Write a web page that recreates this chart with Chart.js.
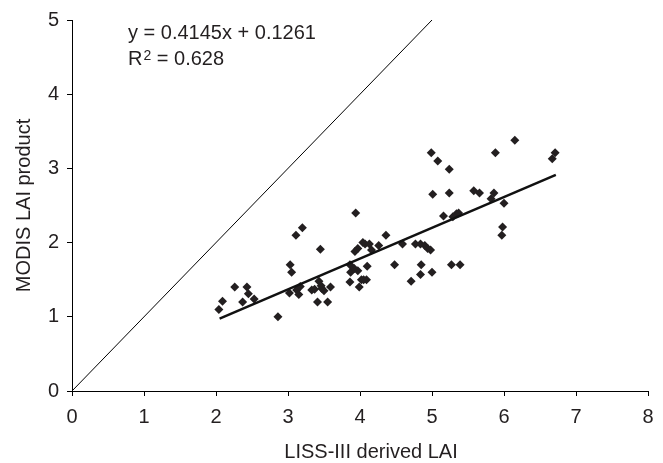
<!DOCTYPE html>
<html>
<head>
<meta charset="utf-8">
<title>MODIS LAI vs LISS-III LAI</title>
<script src="https://cdn.jsdelivr.net/npm/chart.js@4.4.0/dist/chart.umd.min.js"></script>
<style>
body { margin: 0; background: #fff; }
#grafico { display: block; }
</style>
</head>
<body>
<canvas id="grafico" width="663" height="463"></canvas>
<script>
// LAI from LISS-III (x) and the MODIS product (y), one entry per site
const lissLAI = [
	2.04, 2.09, 2.26, 2.37, 2.43, 2.45, 2.53, 2.86, 3.03, 3.05,
	3.02, 3.11, 3.20, 3.12, 3.15, 3.17, 3.33, 3.37, 3.41, 3.43,
	3.45, 3.46, 3.50, 3.55, 3.59, 3.86, 3.87, 3.86, 3.94, 3.93,
	3.97, 3.97, 3.99, 4.02, 4.04, 4.07, 4.10, 4.09, 4.13, 4.16,
	4.26, 4.36, 4.48, 4.59, 4.71, 4.77, 4.84, 4.85, 4.84, 4.90,
	4.94, 4.98, 5.00, 4.99, 5.08, 5.01, 5.24, 5.24, 5.16, 5.27,
	5.39, 5.29, 5.34, 5.37, 5.58, 5.66, 5.82, 5.86, 5.88, 6.00,
	5.98, 5.97, 6.15, 6.67, 6.71, 3.92, 4.05, 3.47
];
const modisLAI = [
	1.10, 1.21, 1.40, 1.20, 1.40, 1.31, 1.24, 1.00, 1.70, 1.60,
	1.32, 2.10, 2.20, 1.36, 1.30, 1.41, 1.36, 1.37, 1.20, 1.48,
	1.91, 1.42, 1.35, 1.20, 1.40, 1.70, 1.60, 1.47, 2.40, 1.88,
	1.92, 1.62, 1.40, 1.50, 2.00, 1.98, 1.68, 1.50, 1.98, 1.90,
	1.96, 2.10, 1.70, 1.98, 1.48, 1.98, 1.98, 1.70, 1.57, 1.96,
	1.92, 1.90, 1.60, 3.21, 3.10, 2.65, 2.99, 2.67, 2.36, 1.70,
	1.70, 2.35, 2.39, 2.40, 2.70, 2.67, 2.59, 2.67, 3.21, 2.53,
	2.21, 2.10, 3.38, 3.13, 3.21, 1.65, 1.50, 1.38
];

const xTicks = [0, 1, 2, 3, 4, 5, 6, 7, 8];
const yTicks = [0, 1, 2, 3, 4, 5];

// regression fit and its range, plus the 1:1 line
const pendiente = 0.4145;
const ordenada = 0.1261;
const r2 = 0.628;
const rectaX = [2.05, 6.72];
const unoAUnoX = [0, 5];

const fuente = '"Liberation Sans", Arial, sans-serif';
const colorTexto = '#231f20';

var puntos = lissLAI.map((x, i) => ({ x: x, y: modisLAI[i] }));
var recta = rectaX.map(x => ({ x: x, y: pendiente * x + ordenada }));
var unoAUno = unoAUnoX.map(x => ({ x: x, y: x }));

// equation, R2 and the x axis title
const textos = {
	id: 'textos',
	afterDraw(chart) {
		const ctx = chart.ctx;
		const area = chart.chartArea;
		ctx.save();
		ctx.fillStyle = colorTexto;
		ctx.textBaseline = 'alphabetic';
		ctx.textAlign = 'left';
		var x0 = area.left + 56;

		ctx.font = '20px ' + fuente;
		ctx.fillText('y = ' + pendiente + 'x + ' + ordenada, x0, area.top + 18.5);
		ctx.fillText('R', x0, area.top + 45);
		var wR = ctx.measureText('R').width;

		ctx.font = '14px ' + fuente;
		ctx.fillText('2', x0 + wR + 1, area.top + 40);
		var w2 = ctx.measureText('2').width;

		ctx.font = '20px ' + fuente;
		ctx.fillText(' = ' + r2, x0 + wR + 1 + w2, area.top + 45);

		ctx.textAlign = 'center';
		ctx.fillText('LISS-III derived LAI', (area.left + area.right) / 2 + 11, 458);
		ctx.restore();
	}
};

const ctx = document.getElementById('grafico').getContext('2d');
const grafico = new Chart(ctx, {
	type: 'scatter',
	data: {
		datasets: [
			{
				data: unoAUno,
				showLine: true,
				borderColor: '#000',
				borderWidth: 1,
				pointRadius: 0,
				fill: false
			},
			{
				data: recta,
				showLine: true,
				borderColor: '#111',
				borderWidth: 2.5,
				pointRadius: 0,
				fill: false
			},
			{
				data: puntos,
				pointStyle: 'rectRot',
				pointRadius: 4.5,
				pointBorderWidth: 0,
				backgroundColor: '#231f20',
				borderColor: '#231f20'
			}
		]
	},
	options: {
		responsive: false,
		animation: false,
		devicePixelRatio: 1,
		layout: { padding: { top: 13, right: 15, left: 0, bottom: 0 } },
		plugins: {
			legend: { display: false },
			tooltip: { enabled: false }
		},
		scales: {
			x: {
				type: 'linear',
				min: 0,
				max: 8,
				afterBuildTicks: s => { s.ticks = xTicks.map(v => ({ value: v })); },
				afterFit: s => { s.height = 72; },
				grid: { drawOnChartArea: false, drawTicks: true, tickLength: 5, color: '#000', lineWidth: 1 },
				border: { display: true, color: '#000', width: 1 },
				ticks: { color: colorTexto, font: { size: 20, family: fuente }, padding: 9, maxRotation: 0, autoSkip: false }
			},
			y: {
				type: 'linear',
				min: 0,
				max: 5,
				afterBuildTicks: s => { s.ticks = yTicks.map(v => ({ value: v })); },
				afterFit: s => { s.width = 72; },
				grid: { drawOnChartArea: false, drawTicks: true, tickLength: 5, color: '#000', lineWidth: 1 },
				border: { display: true, color: '#000', width: 1 },
				ticks: { color: colorTexto, font: { size: 20, family: fuente }, padding: 8, autoSkip: false },
				title: {
					display: true,
					text: 'MODIS LAI product',
					color: colorTexto,
					font: { size: 20, family: fuente },
					padding: { top: 12, bottom: 0 }
				}
			}
		}
	},
	plugins: [textos]
});
</script>
</body>
</html>
